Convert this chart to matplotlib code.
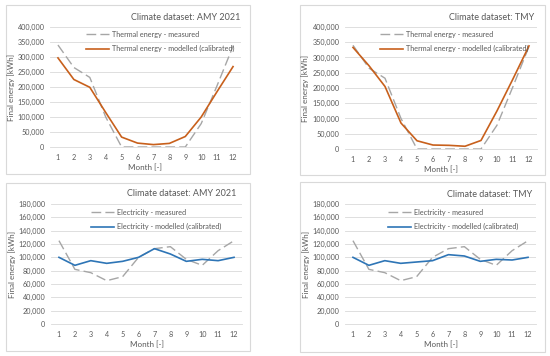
import matplotlib
matplotlib.use("Agg")
import matplotlib.pyplot as plt
from matplotlib.patches import Rectangle
from matplotlib.ticker import FuncFormatter, MultipleLocator

plt.rcParams['font.family'] = ['Lato', 'DejaVu Sans']

months = list(range(1, 13))
month_labels = [str(m) for m in months]

thermal_measured = [340000, 265000, 232000, 100000, 0, 0, 0, 0, 0, 78000, 205000, 336000]
thermal_model_amy = [297000, 225000, 199000, 115000, 33000, 13000, 8000, 12000, 35000, 100000, 185000, 268000]
thermal_model_tmy = [333000, 273000, 205000, 85000, 27000, 13000, 12000, 9000, 28000, 125000, 230000, 338000]

elec_measured = [125000, 82000, 77000, 65000, 71000, 100000, 113000, 116000, 97000, 88000, 110000, 125000]
elec_model_amy = [100000, 88000, 95000, 91000, 94000, 100000, 113000, 105000, 94000, 97000, 95000, 100000]
elec_model_tmy = [100000, 88000, 95000, 91000, 93000, 95000, 104000, 102000, 94000, 97000, 96000, 100000]

titles = ["Climate dataset: AMY 2021", "Climate dataset: TMY",
          "Climate dataset: AMY 2021", "Climate dataset: TMY"]

W, H = 550, 356
fig = plt.figure(figsize=(W / 100, H / 100), dpi=100)
fig.patch.set_facecolor('white')

GRAY_TXT = '#595959'
GRID = '#D9D9D9'
MEAS = '#A6A6A6'
ORANGE = '#C8601C'
BLUE = '#2E75B6'

def fx(x):
    return x / W

def fy(y):
    return 1 - y / H

panels = [
    dict(box=(6, 5, 250, 174), ax=(50, 27, 241, 147), title=(240, 17), leg=(86, 31),
         meas=thermal_measured, kind='thermal', mdl=thermal_model_amy, ylx=15),
    dict(box=(300, 5, 545, 175), ax=(345, 27, 537, 149), title=(534, 17), leg=(380, 31),
         meas=thermal_measured, kind='thermal', mdl=thermal_model_tmy, ylx=309),
    dict(box=(6, 183, 250, 351), ax=(51, 204, 242, 324), title=(236, 194), leg=(91, 209),
         meas=elec_measured, kind='elec', mdl=elec_model_amy, ylx=16),
    dict(box=(300, 182, 545, 352), ax=(345, 204, 536, 324), title=(532, 195), leg=(388, 209),
         meas=elec_measured, kind='elec', mdl=elec_model_tmy, ylx=310),
]

fmt = FuncFormatter(lambda v, p: f"{int(v):,}")

for i, p in enumerate(panels):
    bx0, by0, bx1, by1 = p['box']
    rect = Rectangle((fx(bx0), fy(by1)), fx(bx1 - bx0), (by1 - by0) / H,
                     transform=fig.transFigure, facecolor='white',
                     edgecolor='#D9D9D9', linewidth=0.8, zorder=-10)
    fig.add_artist(rect)
    ax0, ay0, ax1, ay1 = p['ax']
    ax = fig.add_axes([fx(ax0), fy(ay1), fx(ax1 - ax0), (ay1 - ay0) / H])
    ax.set_zorder(1)
    ax.set_facecolor('none')
    if p['kind'] == 'thermal':
        ax.set_ylim(0, 400000)
        ax.yaxis.set_major_locator(MultipleLocator(50000))
        lab_m = "Thermal energy - measured"
        lab_c = "Thermal energy - modelled (calibrated)"
        col = ORANGE
    else:
        ax.set_ylim(0, 180000)
        ax.yaxis.set_major_locator(MultipleLocator(20000))
        lab_m = "Electricity - measured"
        lab_c = "Electricity - modelled (calibrated)"
        col = BLUE
    ax.set_xlim(0.5, 12.5)
    ax.set_xticks(months)
    ax.set_xticklabels(month_labels)
    ax.yaxis.set_major_formatter(fmt)
    ax.grid(axis='y', color=GRID, linewidth=0.6)
    ax.set_axisbelow(True)
    for s in ['top', 'right', 'left']:
        ax.spines[s].set_visible(False)
    ax.spines['bottom'].set_color(GRID)
    ax.spines['bottom'].set_linewidth(0.6)
    ax.tick_params(length=0, labelsize=5.2, colors=GRAY_TXT, pad=4)
    ax.tick_params(axis='x', pad=5)

    l1, = ax.plot(months, p['meas'], color=MEAS, linewidth=1.0, dashes=(7, 3), label=lab_m)
    l2, = ax.plot(months, p['mdl'], color=col, linewidth=1.2, label=lab_c)

    ax.set_xlabel("Month [-]", fontsize=5.8, color=GRAY_TXT, labelpad=2)
    ax.set_ylabel("Final energy [kWh]", fontsize=5.8, color=GRAY_TXT)
    ax.yaxis.set_label_coords((p['ylx'] - ax0) / (ax1 - ax0), 0.5)

    tx, ty = p['title']
    fig.text(fx(tx), fy(ty), titles[i], ha='right', va='center', fontsize=6.5, color=GRAY_TXT)

    lx, ly = p['leg']
    ax.legend(handles=[l1, l2], loc='upper left', bbox_to_anchor=(fx(lx), fy(ly)),
              bbox_transform=fig.transFigure, frameon=False, fontsize=5.2,
              labelcolor=GRAY_TXT, handlelength=3.2, handletextpad=0.4,
              labelspacing=1.0, borderpad=0, borderaxespad=0)

fig.savefig("out.png", dpi=100, facecolor='white')
